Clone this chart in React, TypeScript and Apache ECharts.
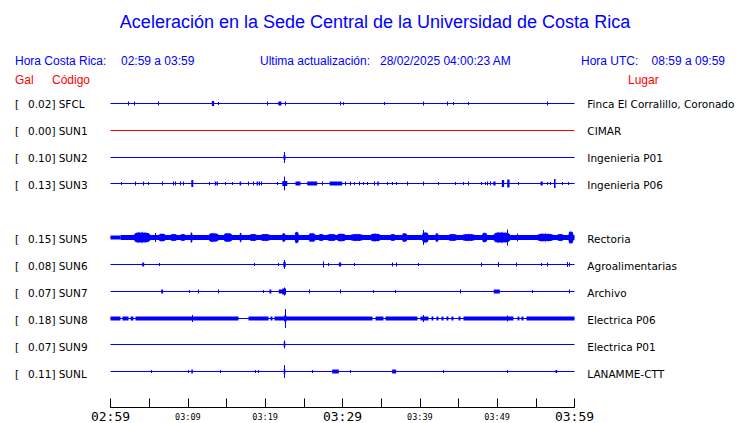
import React, { useEffect, useRef } from "react";
import * as echarts from "echarts";

// ---- data ----
const STATIONS = ["SFCL", "SUN1", "SUN2", "SUN3", "SUN5", "SUN6", "SUN7", "SUN8", "SUN9", "SUNL"];
const SLOTS = [0, 1, 2, 3, 5, 6, 7, 8, 9, 10];
const PEAK_GAL = ["0.02", "0.00", "0.10", "0.13", "0.15", "0.08", "0.07", "0.18", "0.07", "0.11"];
const PLACES = [
  "Finca El Corralillo, Coronado",
  "CIMAR",
  "Ingenieria P01",
  "Ingenieria P06",
  "Rectoria",
  "Agroalimentarias",
  "Archivo",
  "Electrica P06",
  "Electrica P01",
  "LANAMME-CTT",
];
const TICK_LABELS = ["02:59", "03:09", "03:19", "03:29", "03:39", "03:49", "03:59"];

// events: [start minute, end minute, amplitude (Gal), kind 0=block/spike 1=burst]
const SFCL_EV = [
  [2.29, 2.29, 0.03, 0], [3.14, 3.14, 0.03, 0], [6.25, 6.25, 0.03, 0], [13.1, 13.4, 0.04, 0],
  [14.0, 14.0, 0.02, 0], [20.26, 20.26, 0.03, 0], [21.7, 22.1, 0.03, 0], [22.63, 22.63, 0.03, 0],
  [29.74, 29.74, 0.03, 0], [30.17, 30.17, 0.02, 0], [35.47, 35.47, 0.02, 0], [40.51, 40.51, 0.03, 0],
  [43.62, 43.62, 0.03, 0], [44.4, 44.4, 0.02, 0], [46.33, 46.33, 0.02, 0], [56.55, 56.55, 0.03, 0],
];
const SUN1_EV: number[][] = [];
const SUN2_EV = [[22.38, 22.62, 0.04, 0], [22.5, 22.5, 0.1, 0]];
const SUN3_EV = [
  [1.38, 1.38, 0.02, 0], [3.23, 3.23, 0.03, 0], [4.23, 4.23, 0.03, 0], [4.95, 4.95, 0.02, 0],
  [6.69, 6.69, 0.03, 0], [8.19, 8.25, 0.03, 0], [8.45, 8.63, 0.03, 0], [9.05, 9.2, 0.03, 0],
  [9.45, 9.57, 0.03, 0], [10.45, 10.7, 0.06, 0], [12.84, 12.84, 0.02, 0], [13.49, 13.7, 0.03, 0],
  [13.9, 14.0, 0.03, 0], [14.87, 14.87, 0.02, 0], [15.74, 15.74, 0.02, 0], [16.7, 16.9, 0.03, 0],
  [17.88, 17.88, 0.03, 0], [18.53, 18.7, 0.03, 0], [18.9, 19.1, 0.03, 0], [19.3, 19.35, 0.03, 0],
  [19.55, 19.6, 0.03, 0], [21.56, 21.56, 0.02, 0], [22.21, 22.86, 0.04, 0], [22.5, 22.5, 0.13, 0],
  [23.92, 24.57, 0.03, 0], [25.44, 26.73, 0.03, 0], [27.38, 27.5, 0.03, 0], [28.33, 29.96, 0.03, 0],
  [30.39, 30.39, 0.03, 0], [31.04, 31.04, 0.03, 0], [31.59, 31.59, 0.02, 0], [32.24, 32.24, 0.03, 0],
  [32.76, 32.76, 0.02, 0], [33.2, 33.2, 0.02, 0], [34.14, 34.3, 0.03, 0], [34.5, 34.7, 0.03, 0],
  [35.78, 35.78, 0.02, 0], [36.43, 36.43, 0.02, 0], [36.95, 36.95, 0.02, 0], [38.37, 38.5, 0.03, 0],
  [40.44, 40.6, 0.03, 0], [42.45, 42.45, 0.02, 0], [44.61, 44.61, 0.02, 0], [45.69, 45.69, 0.02, 0],
  [46.26, 46.4, 0.03, 0], [47.98, 47.98, 0.02, 0], [48.49, 48.49, 0.02, 0], [48.8, 48.8, 0.03, 0],
  [49.1, 49.2, 0.03, 0], [49.5, 49.79, 0.03, 0], [50.6, 50.9, 0.06, 0], [51.3, 51.6, 0.07, 0],
  [52.72, 52.72, 0.02, 0], [55.6, 55.9, 0.03, 0], [56.47, 56.47, 0.02, 0], [56.9, 56.9, 0.02, 0],
  [57.35, 57.55, 0.08, 0], [58.41, 58.41, 0.02, 0], [59.27, 59.27, 0.02, 0],
];
const SUN5_EV = [
  [0, 1.3, 0.03, 0], [1.3, 60, 0.04, 0],
  [3.01, 5.17, 0.12, 1], [5.82, 5.82, 0.08, 0], [6.25, 7.11, 0.09, 1], [7.76, 8.62, 0.08, 1],
  [9.05, 9.7, 0.08, 1], [10.35, 10.6, 0.12, 1], [12.71, 14.0, 0.1, 1], [14.65, 15.74, 0.1, 1],
  [16.7, 16.95, 0.11, 1], [17.97, 18.97, 0.08, 1], [19.4, 20.69, 0.08, 1], [22.2, 22.63, 0.1, 1],
  [23.83, 24.35, 0.13, 1], [25.64, 26.51, 0.1, 1], [26.93, 27.58, 0.08, 1], [28.02, 29.2, 0.08, 1],
  [29.3, 30.39, 0.09, 1], [31.03, 32.71, 0.08, 1], [33.62, 34.91, 0.09, 1], [36.2, 36.85, 0.08, 1],
  [37.72, 38.36, 0.1, 1], [40.3, 41.12, 0.12, 1], [40.51, 40.51, 0.14, 0], [42.02, 42.41, 0.1, 1],
  [43.7, 44.83, 0.08, 1], [45.47, 47.2, 0.08, 1], [48.06, 48.71, 0.11, 1], [49.52, 51.72, 0.12, 1],
  [51.3, 51.3, 0.15, 0], [52.59, 52.75, 0.07, 1], [55.17, 57.28, 0.09, 1], [57.76, 58.61, 0.08, 1],
  [59.22, 59.87, 0.14, 1],
];
const SUN6_EV = [
  [4.1, 4.35, 0.03, 0], [6.37, 6.37, 0.02, 0], [18.66, 18.66, 0.02, 0], [21.76, 21.76, 0.02, 0],
  [22.35, 22.65, 0.04, 0], [22.5, 22.5, 0.08, 0], [27.5, 27.5, 0.05, 0], [28.15, 28.15, 0.02, 0],
  [29.52, 29.83, 0.03, 0], [31.59, 31.59, 0.02, 0], [36.42, 36.42, 0.03, 0], [36.94, 36.94, 0.03, 0],
  [39.86, 39.86, 0.02, 0], [47.93, 47.93, 0.03, 0], [50.13, 50.13, 0.04, 0], [52.5, 52.5, 0.03, 0],
  [55.69, 55.69, 0.02, 0], [56.54, 56.54, 0.03, 0], [59.05, 59.05, 0.04, 0], [59.35, 59.35, 0.03, 0],
];
const SUN7_EV = [
  [6.55, 6.8, 0.03, 0], [10.25, 10.25, 0.02, 0], [11.42, 11.42, 0.03, 0], [13.93, 13.93, 0.03, 0],
  [19.82, 19.82, 0.02, 0], [20.55, 20.8, 0.03, 0], [21.76, 22.63, 0.03, 0], [22.2, 22.7, 0.05, 0],
  [22.5, 22.5, 0.07, 0], [25.77, 25.77, 0.03, 0], [29.74, 29.74, 0.03, 0], [34.05, 34.05, 0.02, 0],
  [36.85, 36.85, 0.02, 0], [45.3, 45.45, 0.03, 0], [49.56, 50.34, 0.03, 0], [54.53, 54.53, 0.02, 0],
  [59.3, 59.45, 0.03, 0],
];
const SUN8_EV = [
  [0, 1.29, 0.03, 0], [1.55, 2.33, 0.03, 0], [2.59, 2.97, 0.03, 0], [3.23, 16.55, 0.03, 0],
  [17.84, 20.43, 0.03, 0], [20.69, 20.95, 0.03, 0], [21.21, 33.88, 0.03, 0], [34.27, 35.3, 0.03, 0],
  [35.56, 39.7, 0.03, 0], [40.08, 41.12, 0.03, 0], [41.51, 41.76, 0.03, 0], [42.15, 42.41, 0.03, 0],
  [42.8, 43.06, 0.03, 0], [43.44, 43.7, 0.03, 0], [44.09, 44.35, 0.03, 0], [45.0, 45.26, 0.03, 0],
  [45.64, 52.11, 0.03, 0], [52.63, 52.88, 0.03, 0], [53.14, 53.4, 0.03, 0], [53.79, 60, 0.03, 0],
  [10.64, 10.64, 0.06, 0], [22.45, 22.75, 0.05, 0], [22.63, 22.63, 0.18, 0], [40.47, 40.47, 0.06, 0],
  [51.3, 51.3, 0.05, 0],
];
const SUN9_EV = [[22.4, 22.6, 0.04, 0], [22.5, 22.5, 0.07, 0]];
const SUNL_EV = [
  [5.26, 5.26, 0.02, 0], [10.05, 10.05, 0.02, 0], [10.45, 10.65, 0.03, 0], [14.22, 14.22, 0.02, 0],
  [18.75, 18.75, 0.02, 0], [19.1, 19.1, 0.02, 0], [22.4, 22.6, 0.04, 0], [22.5, 22.5, 0.12, 0],
  [26.16, 26.16, 0.02, 0], [28.67, 29.52, 0.03, 0], [31.03, 31.03, 0.02, 0], [36.42, 36.94, 0.03, 0],
  [43.1, 43.1, 0.02, 0], [51.37, 51.37, 0.02, 0], [57.54, 57.76, 0.02, 0],
];
const EVENTS = [SFCL_EV, SUN1_EV, SUN2_EV, SUN3_EV, SUN5_EV, SUN6_EV, SUN7_EV, SUN8_EV, SUN9_EV, SUNL_EV];

// ---- styling ----
const BLUE = "#0000ff";
const RED = "#ff0000";
const GAL_TO_SLOT = 50 / 27;
const SANS = '"Liberation Sans", Arial, sans-serif';
const DJ = '"DejaVu Sans", sans-serif';
const MONO = '"DejaVu Sans Mono", monospace';

function renderItem(params: any, api: any) {
  const t0 = api.value(0);
  const t1 = api.value(1);
  const a = api.value(2);
  const kind = api.value(3);
  const slot = api.value(4);
  const color = api.visual("color");
  const p0 = api.coord([t0, slot]);
  const p1 = api.coord([t1, slot]);
  const slotPx = Math.abs(api.coord([0, 1])[1] - api.coord([0, 0])[1]);
  const ap = a * GAL_TO_SLOT * slotPx;
  const y = Math.round(p0[1] - 0.5) + 0.5;
  const w = p1[0] - p0[0];
  if (a === 0) {
    return {
      type: "line",
      shape: { x1: p0[0], y1: y, x2: p1[0], y2: y },
      style: { stroke: color, lineWidth: 1 },
    };
  }
  if (w < 1.5) {
    const x = Math.round(p0[0] - 0.5) + 0.5;
    return {
      type: "line",
      shape: { x1: x, y1: y - ap - 0.5, x2: x, y2: y + ap + 0.5 },
      style: { stroke: color, lineWidth: 1 },
    };
  }
  if (kind === 1) {
    const x0 = p0[0];
    const x1 = p1[0];
    const xm = (x0 + x1) / 2;
    const b = 2.5;
    const top = [
      [x0, b], [x0 + w * 0.1, ap * 0.75], [x0 + w * 0.3, ap * 0.9], [xm - w * 0.05, ap * 0.8], [xm, ap],
      [xm + w * 0.05, ap * 0.8], [x1 - w * 0.3, ap * 0.85], [x1 - w * 0.1, ap * 0.7], [x1, b],
    ];
    const pts = [
      ...top.map((p) => [p[0], y - p[1]]),
      ...top.slice().reverse().map((p) => [p[0], y + p[1]]),
    ];
    return {
      type: "polygon",
      shape: { points: pts },
      style: { fill: color },
    };
  }
  return {
    type: "rect",
    shape: { x: p0[0], y: y - ap - 0.5, width: w, height: 2 * ap + 1 },
    style: { fill: color },
  };
}

export default function App() {
  const ref = useRef<HTMLDivElement>(null);
  useEffect(() => {
    document.body.style.margin = "0";
    const chart = echarts.init(ref.current!, null, { renderer: "svg" });
    const series: any[] = [];
    STATIONS.forEach((st, i) => {
      const data = [[0, 60, 0, 0, SLOTS[i]], ...EVENTS[i].map((e) => [e[0], e[1], e[2], e[3], SLOTS[i]])];
      series.push({
        type: "custom",
        name: st,
        renderItem,
        clip: false,
        silent: true,
        itemStyle: { color: st === "SUN1" ? RED : BLUE },
        encode: { x: [0, 1], y: 4 },
        data,
      });
    });
    const t = (x: number, y: number, text: string, fill: string, font: string, align = "left") => ({
      type: "text", x, y, style: { text, fill, font, align, verticalAlign: "middle" },
    });
    const graphics: any[] = [
      t(375, 22, "Aceleración en la Sede Central de la Universidad de Costa Rica", BLUE, `18px ${SANS}`, "center"),
      t(15, 61, "Hora Costa Rica:", BLUE, `12px ${SANS}`),
      t(121, 61, "02:59 a 03:59", BLUE, `12px ${SANS}`),
      t(260, 61, "Ultima actualización:", BLUE, `12px ${SANS}`),
      t(380, 61, "28/02/2025 04:00:23 AM", BLUE, `12px ${SANS}`),
      t(581, 61, "Hora UTC:", BLUE, `12px ${SANS}`),
      t(725, 61, "08:59 a 09:59", BLUE, `12px ${SANS}`, "right"),
      t(15, 80, "Gal", RED, `12px ${SANS}`),
      t(52, 80, "Código", RED, `12px ${SANS}`),
      t(628, 80, "Lugar", RED, `12px ${SANS}`),
    ];
    STATIONS.forEach((st, i) => {
      const y = 103.5 + 27 * SLOTS[i];
      graphics.push(
        t(15, y, "[", "#000", `10.5px ${DJ}`),
        t(55.5, y, `${PEAK_GAL[i]}]`, "#000", `10.5px ${DJ}`, "right"),
        t(58.7, y, st, "#000", `10.5px ${DJ}`),
        t(587.3, y, PLACES[i], "#000", `10.5px ${DJ}`)
      );
    });
    chart.setOption({
      animation: false,
      backgroundColor: "#fff",
      grid: { left: 110.5, top: 90, width: 464, height: 319.5, containLabel: false },
      xAxis: {
        type: "value",
        position: "bottom",
        min: 0,
        max: 60,
        interval: 5,
        axisLine: { onZero: false, lineStyle: { color: "#000", width: 1 } },
        axisTick: { inside: true, length: 9, lineStyle: { color: "#000", width: 1 } },
        splitLine: { show: false },
        axisLabel: {
          margin: 2,
          formatter: (v: number) => {
            if (v % 10 !== 0) return "";
            const idx = v / 10;
            return v % 30 === 0 ? `{b|${TICK_LABELS[idx]}}` : `{s|${TICK_LABELS[idx]}}`;
          },
          rich: {
            b: { fontFamily: MONO, fontSize: 13, color: "#000", lineHeight: 14 },
            s: { fontFamily: MONO, fontSize: 8.5, color: "#000", lineHeight: 14 },
          },
        },
      },
      yAxis: { type: "value", min: -0.5, max: 11.3333333, inverse: true, show: false },
      graphic: graphics,
      series,
    });
    return () => chart.dispose();
  }, []);
  return <div ref={ref} style={{ width: 740, height: 423 }} />;
}
